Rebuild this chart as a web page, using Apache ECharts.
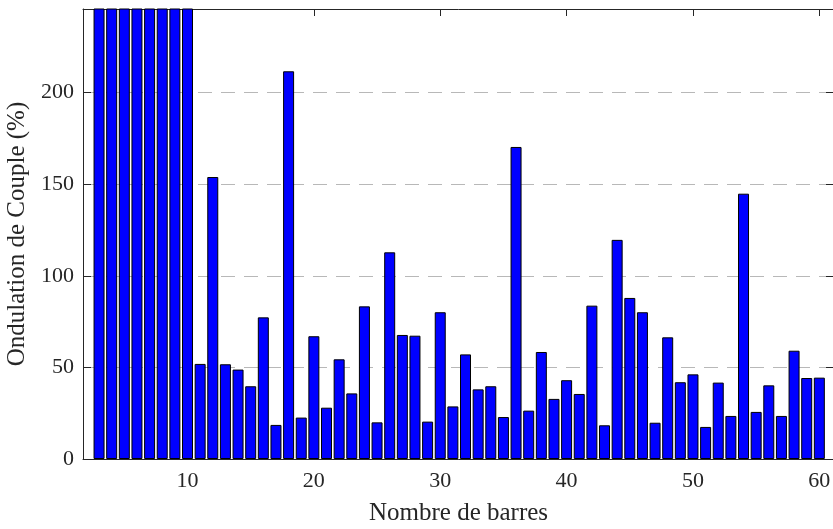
<!DOCTYPE html>
<html><head><meta charset="utf-8">
<script src="https://cdn.jsdelivr.net/npm/echarts@6/dist/echarts.min.js"></script>
<style>html,body{margin:0;padding:0;background:#fff}#c{width:833px;height:529px}</style>
</head><body><div id="c"></div>
<script>
// Number of bars (x) and torque ripple (%) values
const barCounts = [3,4,5,6,7,8,9,10,11,12,13,14,15,16,17,18,19,20,21,22,23,24,25,26,27,28,29,30,31,32,33,34,35,36,37,38,39,40,41,42,43,44,45,46,47,48,49,50,51,52,53,54,55,56,57,58,59,60];
const ripple = [400,400,400,400,400,400,400,400,51.9,153.9,51.7,48.8,39.7,77.3,18.6,211.6,22.6,67.0,28.0,54.4,35.8,83.3,20.0,112.8,67.7,67.3,20.4,80.1,28.7,57.1,38.0,39.7,22.9,170.3,26.4,58.4,32.8,43.0,35.5,83.7,18.4,119.6,87.9,80.1,19.8,66.4,41.9,46.2,17.5,41.7,23.5,144.8,25.7,40.2,23.5,59.1,44.2,44.4];
const xTicks = [10,20,30,40,50,60];
const yTicks = [0,50,100,150,200];
const gridTicks = [50,100,150,200];

const font = 'Liberation Serif';
const axisColor = '#262626';
const chart = echarts.init(document.getElementById('c'), null, {renderer:'canvas'});
const data = barCounts.map((x,i)=>[x, ripple[i]]);
const xBase = {
  type:'value', min:1.73, max:61.16,
  splitLine:{show:false},
  axisLine:{show:true, onZero:false, lineStyle:{color:axisColor, width:1}},
  axisTick:{show:true, inside:true, length:7, customValues:xTicks, lineStyle:{color:axisColor}},
  axisLabel:{show:true, customValues:xTicks, fontFamily:font, fontSize:22, color:axisColor, margin:11},
};
const yBase = {
  type:'value', min:0, max:245.6,
  axisLine:{show:true, lineStyle:{color:axisColor, width:1}},
  axisTick:{show:true, inside:true, length:8, customValues:yTicks, lineStyle:{color:axisColor}},
  axisLabel:{show:true, customValues:yTicks, fontFamily:font, fontSize:22, color:axisColor, margin:9},
};
chart.setOption({
  animation:false,
  grid:{left:83, top:9, width:751, height:450, containLabel:false, outerBoundsMode:'none'},
  xAxis:[
    Object.assign({}, xBase, {position:'bottom', name:'Nombre de barres', nameLocation:'middle', nameGap:42,
      nameTextStyle:{fontFamily:font, fontSize:25, color:axisColor}}),
    Object.assign({}, xBase, {position:'top', axisLabel:{show:false}})
  ],
  yAxis:[
    Object.assign({}, yBase, {position:'left', name:'Ondulation de Couple (%)', nameLocation:'middle', nameGap:48,
      nameTextStyle:{fontFamily:font, fontSize:25, color:axisColor},
      splitLine:{show:true, customValues:gridTicks, lineStyle:{color:'#b8b8b8', type:[14,9], width:1}}}),
    Object.assign({}, yBase, {position:'right', axisLabel:{show:false}, splitLine:{show:false}})
  ],
  series:[{
    type:'bar', data:data, barWidth:11, clip:true,
    itemStyle:{color:'#0000ff', borderColor:'#000', borderWidth:1}
  }]
});
</script></body></html>
